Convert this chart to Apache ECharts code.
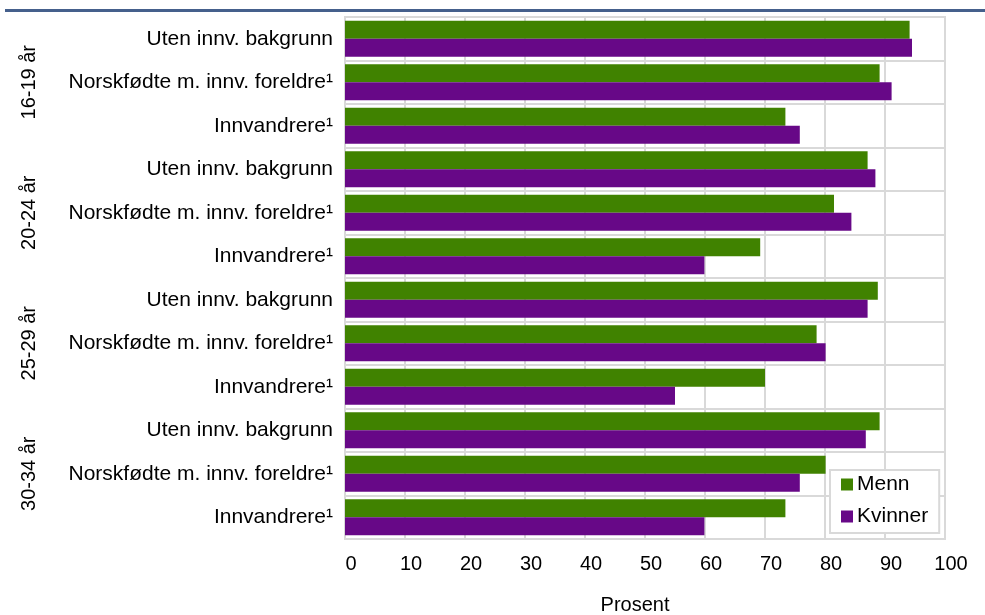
<!DOCTYPE html>
<html>
<head>
<meta charset="utf-8">
<script src="https://cdn.jsdelivr.net/npm/echarts@6/dist/echarts.min.js"></script>
<style>
html,body{margin:0;padding:0;background:#fff;}
#chart{width:985px;height:615px;}
</style>
</head>
<body>
<div id="chart"></div>
<script>
var categories = [
  'Uten innv. bakgrunn', 'Norskfødte m. innv. foreldre\u00B9', 'Innvandrere\u00B9',
  'Uten innv. bakgrunn', 'Norskfødte m. innv. foreldre\u00B9', 'Innvandrere\u00B9',
  'Uten innv. bakgrunn', 'Norskfødte m. innv. foreldre\u00B9', 'Innvandrere\u00B9',
  'Uten innv. bakgrunn', 'Norskfødte m. innv. foreldre\u00B9', 'Innvandrere\u00B9'
];
var ageGroups = ['16-19 år', '20-24 år', '25-29 år', '30-34 år'];
var menn =    [94.1, 89.1, 73.4, 87.1, 81.5, 69.2, 88.8, 78.6, 70.0, 89.1, 80.1, 73.4];
var kvinner = [94.5, 91.1, 75.8, 88.4, 84.4, 59.9, 87.1, 80.1, 55.0, 86.8, 75.8, 59.9];
var seriesNames = ['Menn', 'Kvinner'];
var xTicks = {min: 0, max: 100, interval: 10};

var FONT = 'Liberation Sans, Arial, sans-serif';
var chart = echarts.init(document.getElementById('chart'));
chart.setOption({
  animation: false,
  backgroundColor: '#ffffff',
  textStyle: {fontFamily: FONT},
  graphic: [{
    type: 'rect',
    shape: {x: 5, y: 9, width: 980, height: 3},
    style: {fill: '#45608c'}
  }],
  grid: {left: 345, top: 17, width: 600, height: 522, show: true, borderColor: '#d9d9d9', borderWidth: 2,
         containLabel: false, outerBoundsMode: 'none'},
  legend: {
    data: seriesNames,
    orient: 'vertical',
    left: 830, top: 470,
    backgroundColor: '#ffffff',
    borderColor: '#d9d9d9',
    borderWidth: 2,
    padding: [4, 11, 6, 11],
    itemWidth: 12, itemHeight: 12, itemGap: 11,
    icon: 'rect',
    textStyle: {fontFamily: FONT, fontSize: 21, color: '#000', padding: [0, 0, 0, -1]}
  },
  xAxis: {
    type: 'value',
    min: xTicks.min, max: xTicks.max, interval: xTicks.interval,
    name: 'Prosent', nameLocation: 'middle', nameGap: 56,
    nameTextStyle: {fontFamily: FONT, fontSize: 20, color: '#000', padding: [0, 20, 0, 0]},
    axisLine: {show: false}, axisTick: {show: false},
    axisLabel: {fontFamily: FONT, fontSize: 20, color: '#000', margin: 15, padding: [0, 0, 0, 12]},
    splitLine: {show: true, lineStyle: {color: '#d9d9d9', width: 2}}
  },
  yAxis: [{
    type: 'category', data: categories, inverse: true,
    axisLine: {show: false}, axisTick: {show: false},
    axisLabel: {fontFamily: FONT, fontSize: 21, color: '#000', margin: 12},
    splitLine: {show: true, lineStyle: {color: '#d9d9d9', width: 2}}
  }, {
    type: 'category', data: ageGroups, inverse: true, position: 'left', offset: 298,
    axisLine: {show: false}, axisTick: {show: false}, splitLine: {show: false},
    axisLabel: {fontFamily: FONT, fontSize: 20, color: '#000', rotate: 90, margin: 8}
  }],
  series: [{
    name: seriesNames[0], type: 'bar', data: menn, yAxisIndex: 0,
    barGap: '0%', barCategoryGap: '17%',
    itemStyle: {color: '#408200'}
  }, {
    name: seriesNames[1], type: 'bar', data: kvinner, yAxisIndex: 0,
    barGap: '0%', barCategoryGap: '17%',
    itemStyle: {color: '#670887'}
  }]
});
</script>
</body>
</html>
